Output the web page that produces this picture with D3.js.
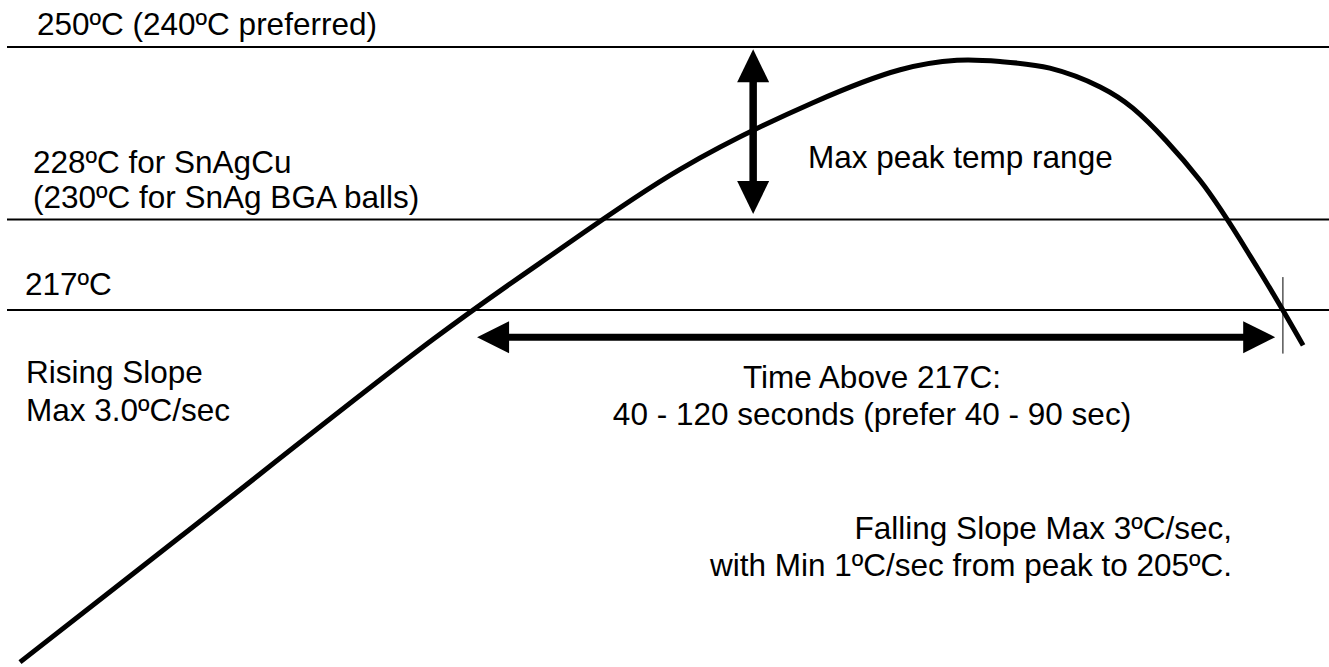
<!DOCTYPE html>
<html>
<head>
<meta charset="utf-8">
<script src="https://cdn.jsdelivr.net/npm/d3@7"></script>
<style>
  html, body { margin: 0; padding: 0; background: #fff; }
  svg { display: block; }
  text { font-family: "Liberation Sans", Arial, Helvetica, sans-serif; font-size: 31.5px; fill: #000; }
</style>
</head>
<body>
<script>
// Lead-free reflow profile (SnAgCu), schematic.

// Profile curve: time in seconds, board temperature in °C
const timeSec = [0, 37.2, 96.0, 120.9, 153.5, 184.4, 204.7, 217.9, 227.9, 239.5, 251.2, 258.8, 274.4, 287.7, 298.4];
const tempC   = [174.2, 189.4, 213.4, 222.7, 234.4, 242.9, 247.1, 248.3, 248.15, 247.3, 244.9, 242.2, 233.0, 222.2, 212.7];

// Reference temperature levels and their labels
const levelTemps  = [250, 228, 217];
const levelLabels = [
  ["250ºC (240ºC preferred)"],
  ["228ºC for SnAgCu", "(230ºC for SnAg BGA balls)"],
  ["217ºC"]
];

// Peak-range arrow (vertical) and time-above-liquidus arrow (horizontal)
const peakRangeTime  = 170.5;
const peakRangeTemps = [228.7, 249.7];
const aboveTemp      = 213.7;
const aboveTimes     = [106.3, 291.9];
// Tick where the cooling curve crosses 217 °C
const exitTime       = 293.7;
const exitTemps      = [221.0, 211.7];

const W = 1329, H = 667;
const svg = d3.select("body").append("svg").attr("width", W).attr("height", H);
svg.append("rect").attr("width", W).attr("height", H).attr("fill", "#fff");

// The drawing is not to scale between levels, so the temperature scale is piecewise
const x = d3.scaleLinear().domain([0, 300]).range([20, 1310]);
const y = d3.scaleLinear().domain([217, 228, 250]).range([310, 219.5, 47]);

// Level lines
svg.append("g").selectAll("line").data(levelTemps).join("line")
  .attr("x1", 7).attr("x2", W)
  .attr("y1", d => y(d)).attr("y2", d => y(d))
  .attr("stroke", "#000").attr("stroke-width", 1.8);

// Level labels (left column)
const labelPos = [
  { x: 37, y: 35, dy: 0 },
  { x: 33, y: 173, dy: 35 },
  { x: 25, y: 295, dy: 0 }
];
levelLabels.forEach((lines, i) => {
  const t = svg.append("text").attr("x", labelPos[i].x).attr("y", labelPos[i].y);
  lines.forEach((s, j) => t.append("tspan").attr("x", labelPos[i].x).attr("dy", j ? labelPos[i].dy : 0).text(s));
});

// Profile curve
const pts = timeSec.map((t, i) => [t, tempC[i]]);
svg.append("path")
  .datum(pts)
  .attr("fill", "none").attr("stroke", "#000").attr("stroke-width", 5)
  .attr("d", d3.line().x(d => x(d[0])).y(d => y(d[1])).curve(d3.curveCatmullRom.alpha(0.5)));

// Double-headed arrow helper
function arrow(x1, y1, x2, y2, head = 32, half = 16, shaft = 7) {
  const dx = x2 - x1, dy = y2 - y1, len = Math.hypot(dx, dy);
  const ux = dx / len, uy = dy / len, px = -uy, py = ux;
  const g = svg.append("g");
  g.append("line")
    .attr("x1", x1 + ux * (head - 2)).attr("y1", y1 + uy * (head - 2))
    .attr("x2", x2 - ux * (head - 2)).attr("y2", y2 - uy * (head - 2))
    .attr("stroke", "#000").attr("stroke-width", shaft);
  const tri = (tx, ty, sx) => {
    const bx = tx + ux * head * sx, by = ty + uy * head * sx;
    return `M${tx},${ty}L${bx + px * half},${by + py * half}L${bx - px * half},${by - py * half}Z`;
  };
  g.append("path").attr("d", tri(x1, y1, 1)).attr("fill", "#000");
  g.append("path").attr("d", tri(x2, y2, -1)).attr("fill", "#000");
}

arrow(x(peakRangeTime), y(peakRangeTemps[1]), x(peakRangeTime), y(peakRangeTemps[0]), 33, 16, 7.5);
arrow(x(aboveTimes[0]), y(aboveTemp), x(aboveTimes[1]), y(aboveTemp), 32, 16, 7);

// Exit marker
svg.append("line")
  .attr("x1", x(exitTime)).attr("x2", x(exitTime))
  .attr("y1", y(exitTemps[0])).attr("y2", y(exitTemps[1]))
  .attr("stroke", "#000").attr("stroke-width", 1);

// Annotations
svg.append("text").attr("x", 808).attr("y", 168).text("Max peak temp range");

const rising = svg.append("text").attr("x", 26).attr("y", 383);
rising.append("tspan").attr("x", 26).text("Rising Slope");
rising.append("tspan").attr("x", 26).attr("dy", 38).text("Max 3.0ºC/sec");

const tal = svg.append("text").attr("text-anchor", "middle").attr("x", 872).attr("y", 388);
tal.append("tspan").attr("x", 872).text("Time Above 217C:");
tal.append("tspan").attr("x", 872).attr("dy", 37).text("40 - 120 seconds (prefer 40 - 90 sec)");

const fall = svg.append("text").attr("text-anchor", "end").attr("x", 1232).attr("y", 539);
fall.append("tspan").attr("x", 1232).text("Falling Slope Max 3ºC/sec,");
fall.append("tspan").attr("x", 1232).attr("dy", 37).text("with Min 1ºC/sec from peak to 205ºC.");
</script>
</body>
</html>
